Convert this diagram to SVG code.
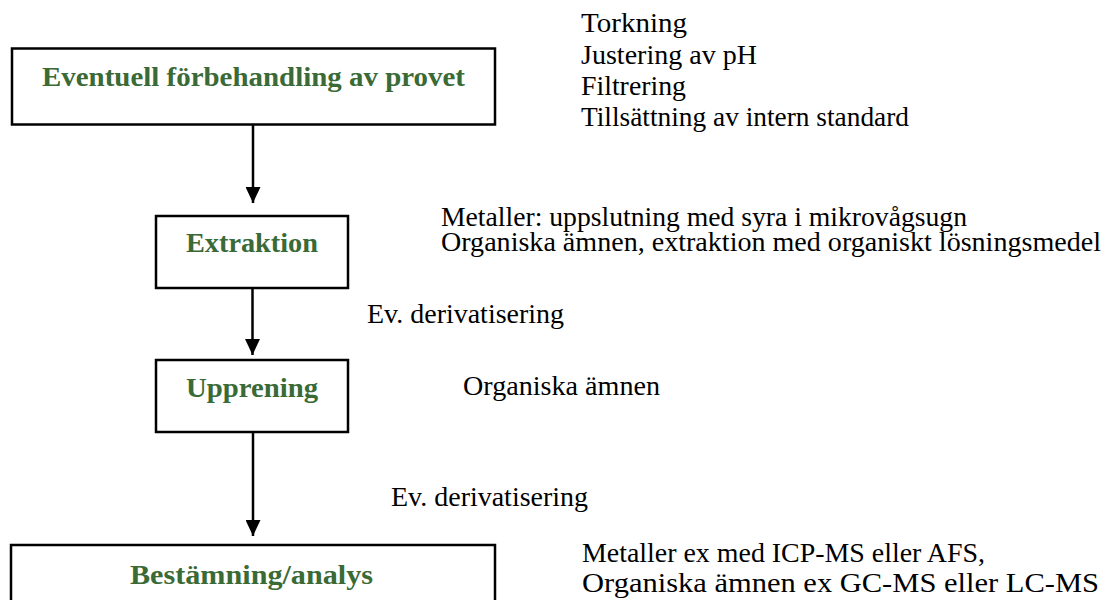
<svg xmlns="http://www.w3.org/2000/svg" width="1107" height="600" viewBox="0 0 1107 600">
<style>
.box{fill:#fff;stroke:#000;stroke-width:2.5}
.lbl{font-family:"Liberation Serif",serif;font-weight:bold;font-size:27px;fill:#3a6a36;text-anchor:middle}
.note{font-family:"Liberation Serif",serif;font-size:27px;fill:#000}
.conn{stroke:#000;stroke-width:2.5;fill:none}
</style>
<defs>
<marker id="ah" viewBox="0 0 16 15" refX="16" refY="7.5" markerWidth="16" markerHeight="15" markerUnits="userSpaceOnUse" orient="auto">
<path d="M0,0 L16,7.5 L0,15 Z" fill="#000"/>
</marker>
<clipPath id="clipTop"><rect x="0" y="0" width="1107" height="133"/></clipPath>
</defs>
<rect width="1107" height="600" fill="#fff"/>
<g id="connectors">
<line class="conn" x1="253" y1="125" x2="253" y2="203" marker-end="url(#ah)"/>
<line class="conn" x1="252.5" y1="288" x2="252.5" y2="355" marker-end="url(#ah)"/>
<line class="conn" x1="253" y1="433" x2="253" y2="536" marker-end="url(#ah)"/>
</g>
<g id="node-forbehandling">
<rect class="box" x="12" y="48.5" width="483" height="76"/>
<text class="lbl" x="253.5" y="86" textLength="423" lengthAdjust="spacingAndGlyphs">Eventuell förbehandling av provet</text>
</g>
<g id="node-extraktion">
<rect class="box" x="156" y="216" width="192" height="72"/>
<text class="lbl" x="252" y="252" textLength="132" lengthAdjust="spacingAndGlyphs">Extraktion</text>
</g>
<g id="node-upprening">
<rect class="box" x="156" y="360" width="192" height="72"/>
<text class="lbl" x="252" y="397" textLength="132" lengthAdjust="spacingAndGlyphs">Upprening</text>
</g>
<g id="node-bestamning">
<rect class="box" x="11" y="545" width="484" height="70"/>
<text class="lbl" x="251.5" y="584" textLength="243" lengthAdjust="spacingAndGlyphs">Bestämning/analys</text>
</g>
<g id="notes">
<g clip-path="url(#clipTop)">
<text class="note" x="581" y="32" textLength="106" lengthAdjust="spacingAndGlyphs">Torkning</text>
<text class="note" x="581" y="64" textLength="176" lengthAdjust="spacingAndGlyphs">Justering av pH</text>
<text class="note" x="581" y="95" textLength="105" lengthAdjust="spacingAndGlyphs">Filtrering</text>
<text class="note" x="581" y="126" textLength="328" lengthAdjust="spacingAndGlyphs">Tillsättning av intern standard</text>
</g>
<text class="note" x="441" y="226" textLength="526" lengthAdjust="spacingAndGlyphs">Metaller: uppslutning med syra i mikrovågsugn</text>
<text class="note" x="441" y="251" textLength="660" lengthAdjust="spacingAndGlyphs">Organiska ämnen, extraktion med organiskt lösningsmedel</text>
<text class="note" x="367" y="323" textLength="197" lengthAdjust="spacingAndGlyphs">Ev. derivatisering</text>
<text class="note" x="463" y="395" textLength="197" lengthAdjust="spacingAndGlyphs">Organiska ämnen</text>
<text class="note" x="391" y="506" textLength="197" lengthAdjust="spacingAndGlyphs">Ev. derivatisering</text>
<text class="note" x="582" y="562" textLength="403" lengthAdjust="spacingAndGlyphs">Metaller ex med ICP-MS eller AFS,</text>
<text class="note" x="582" y="592" textLength="517" lengthAdjust="spacingAndGlyphs">Organiska ämnen ex GC-MS eller LC-MS</text>
</g>
</svg>
